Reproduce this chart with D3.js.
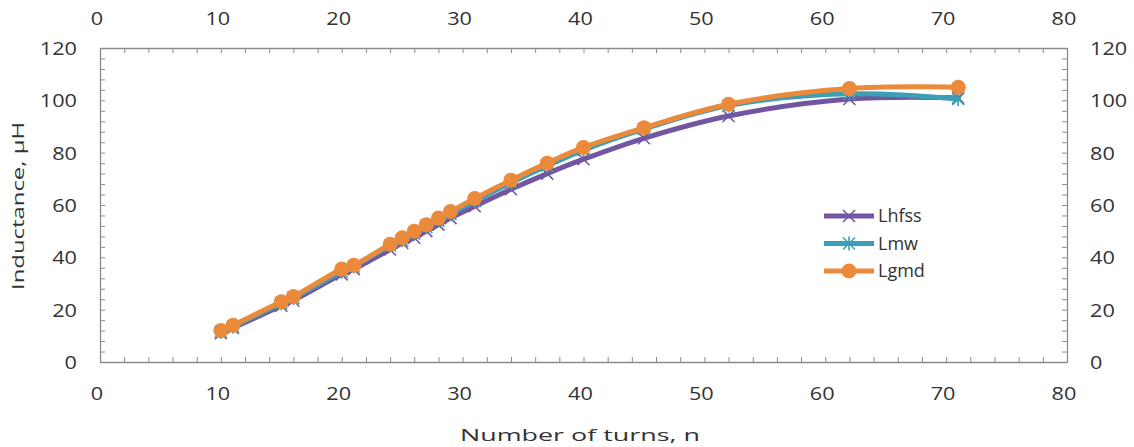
<!DOCTYPE html>
<html>
<head>
<meta charset="utf-8">
<script src="https://cdn.jsdelivr.net/npm/d3@7"></script>
<style>
  body { margin: 0; background: #fff; }
  text { font-family: "Open Sans", "Noto Sans", sans-serif; fill: #333; }
</style>
</head>
<body>
<svg id="chart"></svg>
<script>
// data
const turns = [10, 11, 15, 16, 20, 21, 24, 25, 26, 27, 28, 29, 31, 34, 37, 40, 45, 52, 62, 71];
const Lhfss = [11, 13, 21.5, 23.5, 33.5, 35.5, 43, 45.5, 47.5, 50, 52.5, 55, 59.5, 66, 72, 77.5, 85.5, 94, 100.5, 101];
const Lmw = [11.5, 13.5, 22.5, 24.5, 34.5, 36.5, 44.5, 46.5, 49, 51.5, 54, 56.5, 61.5, 68.5, 75, 81, 89, 98, 102.5, 100.5];
const Lgmd = [12, 14, 23, 25, 35.5, 37, 45, 47.5, 50, 52.5, 55, 57.5, 62.5, 69.5, 76, 82, 89.5, 98.5, 104.5, 105];
const seriesNames = ['Lhfss', 'Lmw', 'Lgmd'];
const xTicks = [0, 10, 20, 30, 40, 50, 60, 70, 80];
const yTicks = [0, 20, 40, 60, 80, 100, 120];

const W = 1134, H = 447;
const margin = { top: 48, right: 67, bottom: 85, left: 100 };

const svg = d3.select('#chart').attr('width', W).attr('height', H);

const x = d3.scaleLinear().domain([0, 80]).range([margin.left, W - margin.right]);
const y = d3.scaleLinear().domain([0, 120]).range([H - margin.bottom, margin.top]);

const colors = { Lhfss: '#7256a2', Lmw: '#3d9fb5', Lgmd: '#ea8a3a' };
const allData = {
  Lhfss: turns.map((n, i) => ({ n, v: Lhfss[i] })),
  Lmw: turns.map((n, i) => ({ n, v: Lmw[i] })),
  Lgmd: turns.map((n, i) => ({ n, v: Lgmd[i] }))
};

// axes, ticks inward, minor every 2 on x and every 4 on y
const axisColor = '#8c8c8c';
const minorX = d3.range(0, 81, 2);
const minorY = d3.range(0, 121, 4);

function styleAxis(g) {
  g.select('.domain').attr('stroke', axisColor).attr('stroke-width', 1.3);
  g.selectAll('.tick line').attr('stroke', axisColor);
  g.selectAll('.tick text').remove();
}

svg.append('g').attr('transform', `translate(0,${y(0)})`)
  .call(d3.axisTop(x).tickValues(minorX).tickSize(5).tickSizeOuter(0)).call(styleAxis);
svg.append('g').attr('transform', `translate(0,${y(120)})`)
  .call(d3.axisBottom(x).tickValues(minorX).tickSize(5).tickSizeOuter(0)).call(styleAxis);
svg.append('g').attr('transform', `translate(${x(0)},0)`)
  .call(d3.axisRight(y).tickValues(minorY).tickSize(5).tickSizeOuter(0)).call(styleAxis);
svg.append('g').attr('transform', `translate(${x(80)},0)`)
  .call(d3.axisLeft(y).tickValues(minorY).tickSize(5).tickSizeOuter(0)).call(styleAxis);

// tick labels (the reference type is wide, so stretch it a little)
const fs = 18;
const tl = d => String(d).length * 12.4;
function label(sel) {
  sel.attr('font-size', fs).attr('textLength', tl).attr('lengthAdjust', 'spacingAndGlyphs').text(d => d);
}
svg.append('g').selectAll('text').data(xTicks).join('text')
  .attr('x', d => x(d) - 3).attr('y', 400).attr('text-anchor', 'middle').call(label);
svg.append('g').selectAll('text').data(xTicks).join('text')
  .attr('x', d => x(d) - 3).attr('y', 25).attr('text-anchor', 'middle').call(label);
svg.append('g').selectAll('text').data(yTicks).join('text')
  .attr('x', 77).attr('y', d => y(d) + 7).attr('text-anchor', 'end').call(label);
svg.append('g').selectAll('text').data(yTicks).join('text')
  .attr('x', 1090).attr('y', d => y(d) + 7).attr('text-anchor', 'start').call(label);

// titles
svg.append('text').attr('x', 580).attr('y', 441).attr('text-anchor', 'middle')
  .attr('font-size', 17).attr('textLength', 240).attr('lengthAdjust', 'spacingAndGlyphs')
  .text('Number  of turns, n');
svg.append('text').attr('transform', `translate(24,${206}) rotate(-90)`)
  .attr('text-anchor', 'middle').attr('font-size', 17)
  .attr('textLength', 168).attr('lengthAdjust', 'spacingAndGlyphs').text('Inductance, µH');

// lines
const line = d3.line().x(d => x(d.n)).y(d => y(d.v)).curve(d3.curveCatmullRom.alpha(0.5));

function drawMarker(g, name, cx, cy) {
  const c = colors[name];
  if (name === 'Lhfss') {
    const s = 6;
    g.append('path').attr('d', `M${cx - s},${cy - s}L${cx + s},${cy + s}M${cx - s},${cy + s}L${cx + s},${cy - s}`)
      .attr('stroke', c).attr('stroke-width', 1.6).attr('fill', 'none');
  } else if (name === 'Lmw') {
    const s = 6;
    g.append('path').attr('d', `M${cx - s},${cy - s}L${cx + s},${cy + s}M${cx - s},${cy + s}L${cx + s},${cy - s}M${cx},${cy - s - 1}L${cx},${cy + s + 1}`)
      .attr('stroke', c).attr('stroke-width', 1.6).attr('fill', 'none');
  } else {
    g.append('circle').attr('cx', cx).attr('cy', cy).attr('r', 7.5).attr('fill', c);
  }
}

seriesNames.forEach(name => {
  const g = svg.append('g');
  g.append('path').datum(allData[name]).attr('d', line)
    .attr('fill', 'none').attr('stroke', colors[name]).attr('stroke-width', 5)
    .attr('stroke-linejoin', 'round').attr('stroke-linecap', 'round');
  allData[name].forEach(d => drawMarker(g, name, x(d.n), y(d.v)));
});

// legend
const legend = svg.append('g');
seriesNames.forEach((name, i) => {
  const ly = 216 + i * 27.5;
  legend.append('line').attr('x1', 824).attr('x2', 874).attr('y1', ly).attr('y2', ly)
    .attr('stroke', colors[name]).attr('stroke-width', 5);
  drawMarker(legend, name, 849, ly);
  legend.append('text').attr('x', 878).attr('y', ly + 6).attr('font-size', 18).text(name);
});
</script>
</body>
</html>
